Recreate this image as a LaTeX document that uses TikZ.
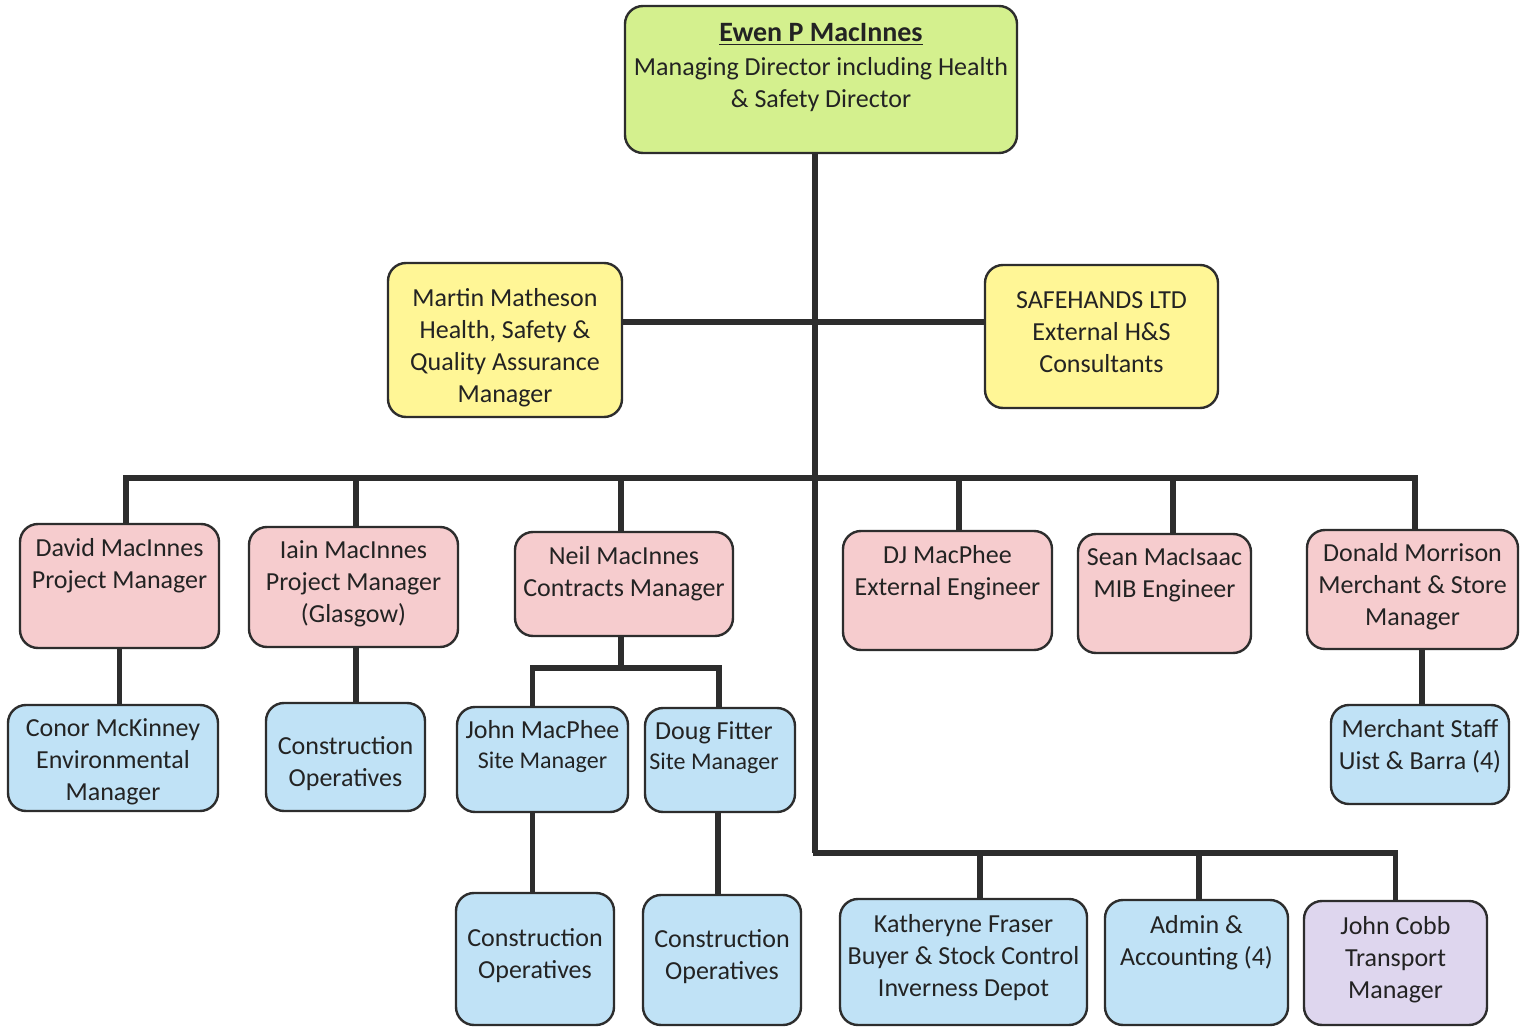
\documentclass[tikz,border=0pt]{standalone}
\usepackage{fontspec}
\setmainfont{Carlito}
\definecolor{cgreen}{RGB}{212,240,142}
\definecolor{cyellow}{RGB}{255,246,150}
\definecolor{cpink}{RGB}{246,204,206}
\definecolor{cblue}{RGB}{192,226,246}
\definecolor{clav}{RGB}{222,214,238}
\definecolor{cline}{RGB}{45,45,45}
\definecolor{ctext}{RGB}{35,35,35}
\tikzset{
  orgbox/.style={draw=cline, line width=1.2pt, rounded corners=9pt, inner sep=0pt},
  gbox/.style={orgbox, fill=cgreen},
  ybox/.style={orgbox, fill=cyellow},
  pbox/.style={orgbox, fill=cpink},
  bbox/.style={orgbox, fill=cblue},
  lbox/.style={orgbox, fill=clav},
  txt/.style={align=center, inner sep=0pt, text=ctext, font=\fontsize{13}{16}\selectfont},
  conn/.style={draw=cline, line width=2.6pt},
}
% name, style, l, t, r, b, text x offset, text y, text
\newcommand\obox[9]{%
  \node[#2, minimum width={(#5-#3)*0.5pt}, minimum height={(#6-#4)*0.5pt}] (#1) at ({(#3+#5)/2},{(#4+#6)/2}) {};
  \node[txt] (#1-t) at ({(#3+#5)/2+#7},{#8+2.5}) {#9};}
\begin{document}
\begin{tikzpicture}[x=0.5pt,y=-0.5pt]
\useasboundingbox (0,0) rectangle (1523,1027);
\fill[white] (0,0) rectangle (1523,1027);
\coordinate (spA) at (815,478);
\coordinate (spB) at (813,853);
\coordinate (rowN) at (621,668);
\obox{ewen}{gbox}{625}{6}{1017}{153}{0}{65}{\fontsize{14}{17}\selectfont\underline{\textbf{Ewen P MacInnes}}\\[1pt]Managing Director including Health\\\& Safety Director}
\obox{martin}{ybox}{388}{263}{622}{417}{0}{345}{Martin Matheson\\Health, Safety \&\\Quality Assurance\\Manager}
\obox{safe}{ybox}{985}{265}{1218}{408}{0}{330}{SAFEHANDS LTD\\External H\&S\\Consultants}
\obox{david}{pbox}{20}{524}{219}{648}{0}{563}{David MacInnes\\Project Manager}
\obox{iain}{pbox}{249}{527}{458}{647}{0}{581}{Iain MacInnes\\Project Manager\\(Glasgow)}
\obox{neil}{pbox}{515}{532}{733}{636}{0}{571}{Neil MacInnes\\Contracts Manager}
\obox{dj}{pbox}{843}{531}{1052}{650}{0}{570}{DJ MacPhee\\External Engineer}
\obox{sean}{pbox}{1078}{534}{1251}{653}{0}{573}{Sean MacIsaac\\MIB Engineer}
\obox{donald}{pbox}{1307}{530}{1518}{649}{0}{584}{Donald Morrison\\Merchant \& Store\\Manager}
\obox{conor}{bbox}{8}{705}{218}{811}{0}{759}{Conor McKinney\\Environmental\\Manager}
\obox{coi}{bbox}{266}{703}{425}{811}{0}{761}{Construction\\Operatives}
\obox{johnm}{bbox}{457}{707}{628}{812}{0}{744}{John MacPhee\\[-1pt]{\fontsize{12}{15}\selectfont Site Manager}}
\obox{doug}{bbox}{645}{708}{795}{812}{-6}{745}{Doug Fitter\\[-1pt]{\fontsize{12}{15}\selectfont Site Manager}}
\obox{mstaff}{bbox}{1331}{705}{1509}{804}{0}{744}{Merchant Staff\\Uist \& Barra (4)}
\obox{coj}{bbox}{456}{893}{614}{1025}{0}{953}{Construction\\Operatives}
\obox{cod}{bbox}{643}{895}{801}{1025}{0}{954}{Construction\\Operatives}
\obox{kath}{bbox}{840}{899}{1087}{1025}{0}{955}{Katheryne Fraser\\Buyer \& Stock Control\\Inverness Depot}
\obox{admin}{bbox}{1105}{900}{1288}{1025}{0}{940}{Admin \&\\Accounting (4)}
\obox{cobb}{lbox}{1304}{901}{1487}{1025}{0}{957}{John Cobb\\Transport\\Manager}
% spine
\draw[conn] (ewen.south -| spA) -- (spA) -- (spA |- spB) -- (spB) -- (spB -| cobb.north) -- (cobb.north);
% Martin / SAFEHANDS link
\draw[conn] (martin.east |- 0,322) -- (safe.west |- 0,322);
% top bus
\draw[conn] ([xshift=3.25pt]david.north) -- ([xshift=3.25pt]david.north |- spA) -- ([xshift=1.25pt]donald.north |- spA) -- ([xshift=1.25pt]donald.north);
\draw[conn] ([xshift=1.25pt]iain.north) -- ([xshift=1.25pt]iain.north |- spA);
\draw[conn] ([xshift=-1.5pt]neil.north) -- ([xshift=-1.5pt]neil.north |- spA);
\draw[conn] ([xshift=5.75pt]dj.north) -- ([xshift=5.75pt]dj.north |- spA);
\draw[conn] ([xshift=4.25pt]sean.north) -- ([xshift=4.25pt]sean.north |- spA);
% second level
\draw[conn] (david.south) -- (conor.north -| david.south);
\draw[conn] ([xshift=1.25pt]iain.south) -- ([xshift=1.25pt]iain.south |- coi.north);
\draw[conn] ([xshift=4.75pt]donald.south) -- ([xshift=4.75pt]donald.south |- mstaff.north);
\draw[conn] ([xshift=-1.5pt]neil.south) -- (rowN);
\draw[conn] ([xshift=-5pt]johnm.north) -- ([xshift=-5pt]johnm.north |- rowN) -- ([xshift=-0.5pt]doug.north |- rowN) -- ([xshift=-0.5pt]doug.north);
\draw[conn] ([xshift=-5pt]johnm.south) -- ([xshift=-5pt]johnm.south |- coj.north);
\draw[conn] ([xshift=-1pt]doug.south) -- ([xshift=-1pt]doug.south |- cod.north);
% bottom bus drops
\draw[conn] ([xshift=8.25pt]kath.north) -- ([xshift=8.25pt]kath.north |- spB);
\draw[conn] ([xshift=1.25pt]admin.north) -- ([xshift=1.25pt]admin.north |- spB);
\end{tikzpicture}
\end{document}
